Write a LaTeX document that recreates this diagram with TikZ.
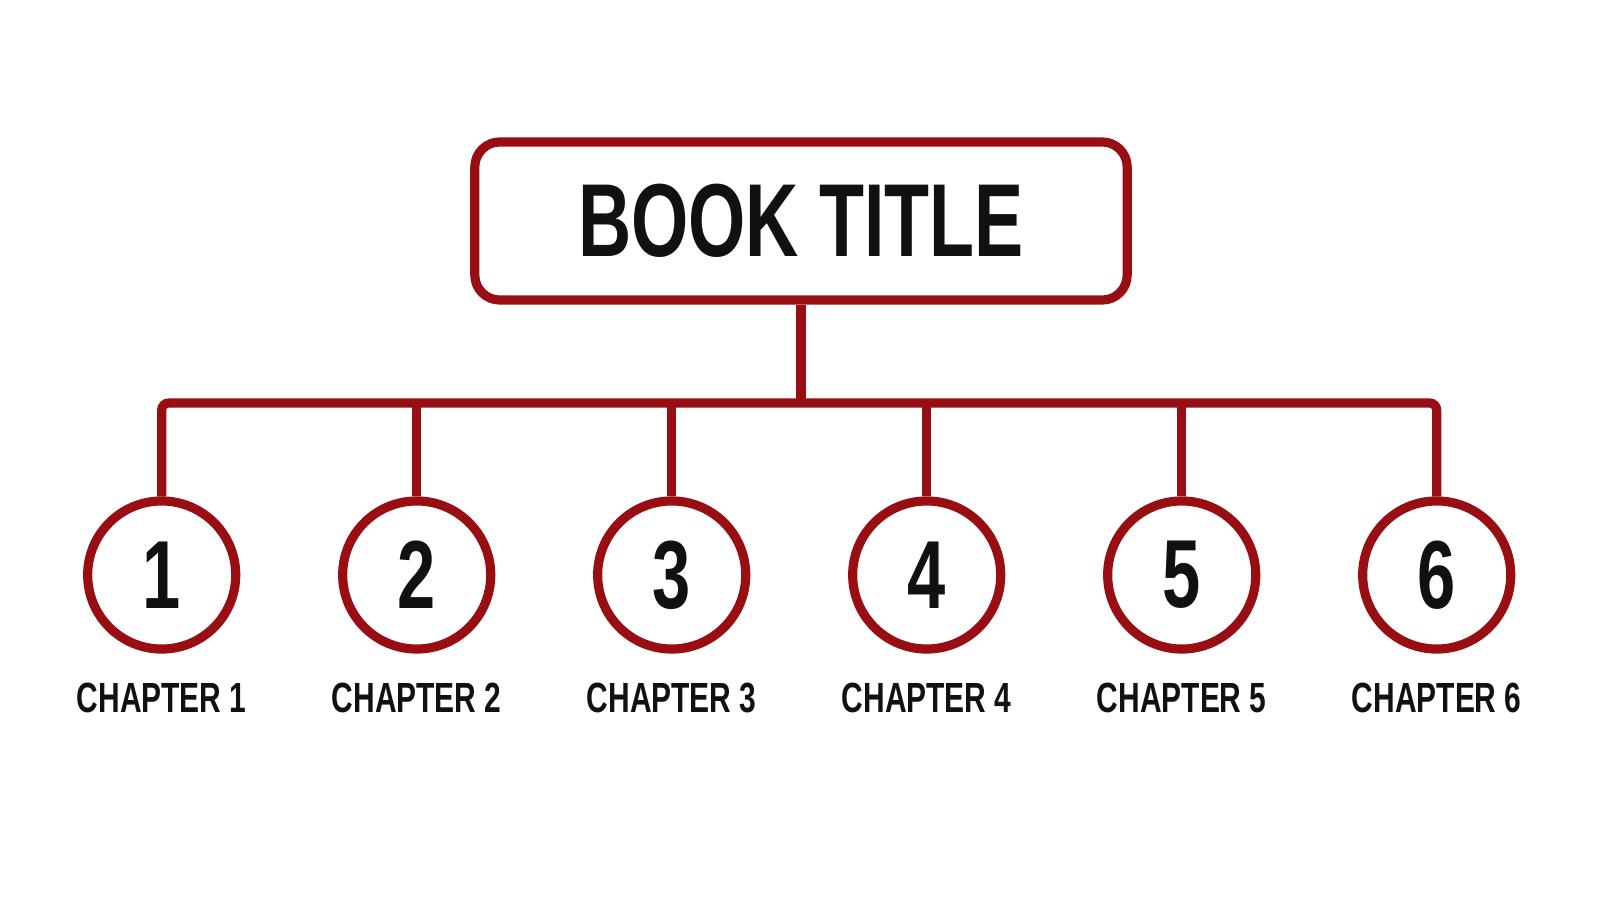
\documentclass[tikz,border=0pt]{standalone}
\usepackage{fontspec}
\setmainfont{Liberation Sans}[FakeStretch=0.71]
\usepackage{xcolor}
\definecolor{line}{RGB}{152, 14, 18}
\definecolor{ink}{RGB}{17, 17, 17}

\begin{document}
\begin{tikzpicture}[x=0.01cm, y=-0.01cm,
    every path/.style={line width=2.6pt},
    ch/.style={circle, draw=line, minimum size=1.48cm, inner sep=0pt, font=\fontsize{27.5}{27}\selectfont\bfseries, text=ink},
    lab/.style={font=\fontsize{12}{12}\selectfont\bfseries, text=ink, inner sep=0pt}]
            \useasboundingbox[fill=white] (0, 0) rectangle (1600, 900);
            \node[draw=line, rounded corners=0.25cm, minimum width=6.52cm, minimum height=1.58cm,
                  font=\fontsize{29.5}{29}\selectfont\bfseries, text=ink](t) at (801, 221) {BOOK TITLE};
            \node[ch](a) at (161.7, 575) {1};
            \node[ch](b) at (416.7, 575) {2};
            \node[ch](c) at (671.7, 575) {3};
            \node[ch](d) at (926.7, 575) {4};
            \node[ch](e) at (1181.7, 575) {5};
            \node[ch](f) at (1436.7, 575) {6};
            \node[lab](la) at (161.7, 698) {CHAPTER 1};
            \node[lab](lb) at (416.7, 698) {CHAPTER 2};
            \node[lab](lc) at (671.7, 698) {CHAPTER 3};
            \node[lab](ld) at (926.7, 698) {CHAPTER 4};
            \node[lab](le) at (1181.7, 698) {CHAPTER 5};
            \node[lab](lf) at (1436.7, 698) {CHAPTER 6};
            \coordinate(bus) at (801, 403);
            \draw[color=line] (t.south) -- (bus);
            \draw[color=line, rounded corners=0.07cm] (a.north) |- (bus) -| (f.north);
            \draw[color=line] (b.north) -- (b.north |- bus);
            \draw[color=line] (c.north) -- (c.north |- bus);
            \draw[color=line] (d.north) -- (d.north |- bus);
            \draw[color=line] (e.north) -- (e.north |- bus);
        \end{tikzpicture}
\end{document}
